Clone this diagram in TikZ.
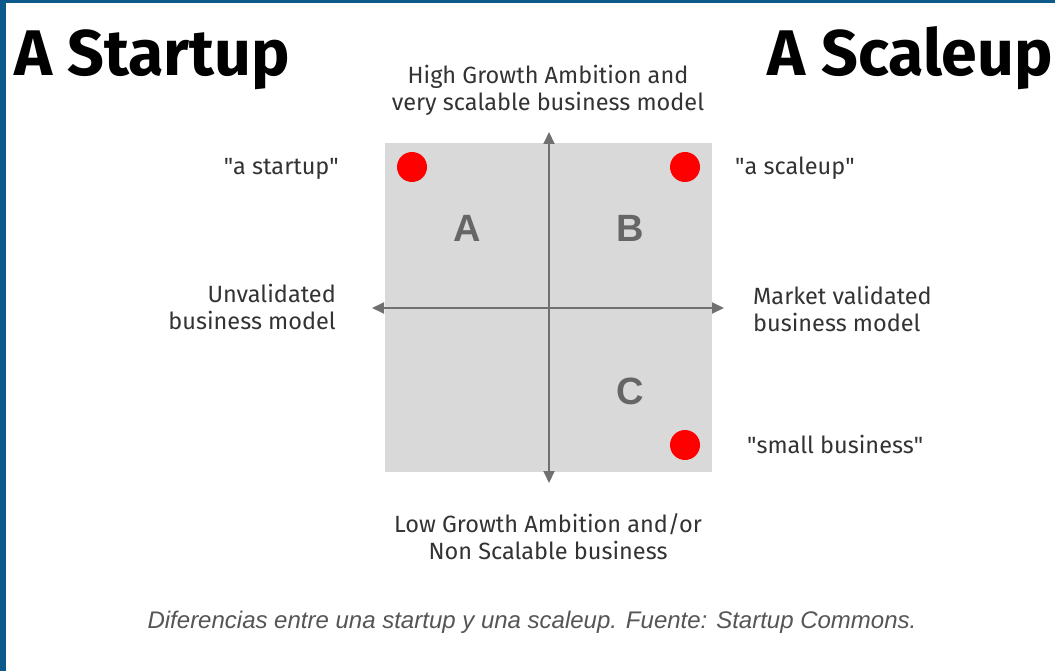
\documentclass[tikz,border=0pt]{standalone}
\usepackage{fontspec}
\setmainfont{Fira Sans}
\newfontfamily\capfont{Liberation Sans}
\newfontfamily\letterfont{Liberation Sans}
\usetikzlibrary{arrows.meta}
\definecolor{frameblue}{HTML}{0B5A8A}
\definecolor{squaregray}{HTML}{D9D9D9}
\definecolor{axisgray}{HTML}{707070}
\definecolor{lettergray}{HTML}{666666}
\definecolor{labelgray}{HTML}{333333}
\definecolor{capgray}{HTML}{555555}
\definecolor{dotred}{HTML}{FF0000}
\tikzset{
  title/.style={font=\fontsize{64.5}{70}\selectfont\bfseries, text=black, inner sep=0pt},
  lab/.style={font=\fontsize{23.5}{27}\selectfont, text=labelgray, inner sep=0pt},
  quad/.style={font=\letterfont\fontsize{38}{40}\selectfont\bfseries, text=lettergray, inner sep=0pt},
  dot/.style={circle, fill=dotred, minimum size=30pt, inner sep=0pt},
  axis/.style={draw=axisgray, line width=2pt, {Triangle[length=12pt,width=11pt]}-{Triangle[length=12pt,width=11pt]}},
  caption/.style={font=\capfont\itshape\fontsize{24}{26}\selectfont, text=capgray, inner sep=0pt}
}
\begin{document}
\begin{tikzpicture}[x=1pt,y=-1pt]
\useasboundingbox (0,0) rectangle (1055,671);
\fill[white] (0,0) rectangle (1055,671);
\fill[frameblue] (0,0) rectangle (6,671);
\fill[frameblue] (0,0) rectangle (1055,3);
% square
\fill[squaregray] (385,143) rectangle (712,472);
% axes
\coordinate (atop) at (549,132);
\coordinate (abot) at (549,483);
\coordinate (aleft) at (372,308);
\coordinate (aright) at (724,308);
\draw[axis] (atop) -- (abot);
\draw[axis] (aleft) -- (aright);
% dots
\node[dot] (d1) at (412,167) {};
\node[dot] (d2) at (685,167) {};
\node[dot] (d3) at (685,445) {};
% quadrant letters
\node[quad] (qa) at (467,228) {A};
\node[quad] (qb) at (630,228) {B};
\node[quad] (qc) at (630,391) {C};
% titles
\node[title, anchor=base west] (t1) at (14,76) {A Startup};
\node[title, anchor=base east] (t2) at (1053,76) {A Scaleup};
% labels
\node[lab, align=center] (top) at (548,90.5) {High Growth Ambition and\\very scalable business model};
\node[lab, align=center] (bot) at (548,536.5) {Low Growth Ambition and/or\\Non Scalable business};
\node[lab, align=right, anchor=east] (lft) at (336,307) {Unvalidated\\business model};
\node[lab, align=left, anchor=west] (rgt) at (753,309) {Market validated\\business model};
\node[lab, anchor=base east] (ls) at (339,175) {\textquotedbl a startup\textquotedbl};
\node[lab, anchor=base west] (ls2) at (735,175) {\textquotedbl a scaleup\textquotedbl};
\node[lab, anchor=base west] (ls3) at (747,453) {\textquotedbl small business\textquotedbl};
% caption
\node[caption, anchor=base] (cap) at (532,628) {Diferencias entre una startup y una scaleup. Fuente: Startup Commons.};
\end{tikzpicture}
\end{document}
